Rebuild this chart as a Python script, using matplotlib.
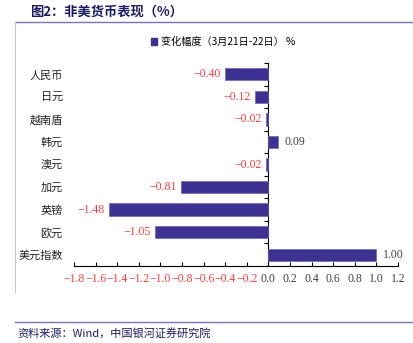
import matplotlib.pyplot as plt
from matplotlib.lines import Line2D
from matplotlib.patches import Patch

plt.rcParams['font.family'] = ['Noto Sans CJK SC', 'DejaVu Sans']

# 数据
currencies = ['人民币', '日元', '越南盾', '韩元', '澳元', '加元', '英镑', '欧元', '美元指数']
changes = [-0.40, -0.12, -0.02, 0.09, -0.02, -0.81, -1.48, -1.05, 1.00]
xticks = [-1.8, -1.6, -1.4, -1.2, -1.0, -0.8, -0.6, -0.4, -0.2, 0.0, 0.2, 0.4, 0.6, 0.8, 1.0, 1.2]
legend_label = '变化幅度（3月21日-22日） %'

bar_color = '#3d3294'
red = '#ff3b3b'
gray = '#404040'
navy = '#1c1c66'
num_font = 'Liberation Serif'

fig = plt.figure(figsize=(4.13, 3.43), dpi=100)
ax = fig.add_axes([74 / 413, 1 - 266 / 343, 324 / 413, 203 / 343])

ypos = list(range(len(currencies)))
ax.barh(ypos, changes, height=0.55, color=bar_color, edgecolor='#6f66b8', linewidth=0.5, zorder=3)
ax.set_ylim(len(currencies) - 0.5, -0.5)
ax.set_xlim(-1.8, 1.2)

# 数值标签
for y, v in zip(ypos, changes):
    if v < 0:
        ax.text(v - 0.04, y, f'\u2212{abs(v):.2f}', ha='right', va='center',
                color=red, fontsize=8.5, family=num_font)
    else:
        ax.text(v + 0.06, y, f'{v:.2f}', ha='left', va='center',
                color=gray, fontsize=8.5, family=num_font)

# x 轴
ax.set_xticks(xticks)
ax.set_xticklabels([('\u2212' if t < 0 else '') + f'{abs(t):.1f}' for t in xticks],
                   family=num_font, fontsize=8.5)
for lab, t in zip(ax.get_xticklabels(), xticks):
    lab.set_color(red if t < 0 else gray)
ax.tick_params(axis='x', direction='in', length=3, width=0.8, pad=5)

# y 轴标签放左侧
ax.set_yticks(ypos)
ax.set_yticklabels(currencies, fontsize=8, color='#222222')
ax.tick_params(axis='y', length=0, pad=8)

for s in ['top', 'right', 'left']:
    ax.spines[s].set_visible(False)
ax.spines['bottom'].set_linewidth(0.8)

# 零轴 + 分隔刻度
sec = ax.secondary_yaxis(0.6)
sec.set_yticks([i + 0.5 for i in range(-1, len(currencies))])
sec.set_yticklabels([])
sec.tick_params(axis='y', direction='in', length=3, width=0.8)
sec.spines['left'].set_linewidth(0.9)

# 图例
handle = Patch(facecolor=bar_color, edgecolor=bar_color)
fig.legend([handle], [legend_label], loc='center', bbox_to_anchor=(0.54, 1 - 42 / 343),
           frameon=False, fontsize=7.3, handlelength=0.6, handleheight=0.6, handletextpad=0.4)

# 标题和来源
fig.text(30 / 413, 1 - 12 / 343, '图2：非美货币表现（%）', fontsize=9.5, fontweight='bold',
         color=navy, va='center', ha='left')
fig.add_artist(Line2D([15 / 413, 1], [1 - 22 / 343] * 2, color='#7a72bb', lw=1))
fig.add_artist(Line2D([15 / 413] * 2, [1 - 22 / 343, 1 - 292 / 343], color='#c8c8c8', lw=0.8))
fig.add_artist(Line2D([15 / 413, 1], [1 - 322 / 343] * 2, color='#7a72bb', lw=1))
fig.text(17 / 413, 1 - 333 / 343, '资料来源：Wind，中国银河证券研究院', fontsize=8, style='italic',
         color=navy, va='center', ha='left')

fig.savefig('out.png', dpi=100)
